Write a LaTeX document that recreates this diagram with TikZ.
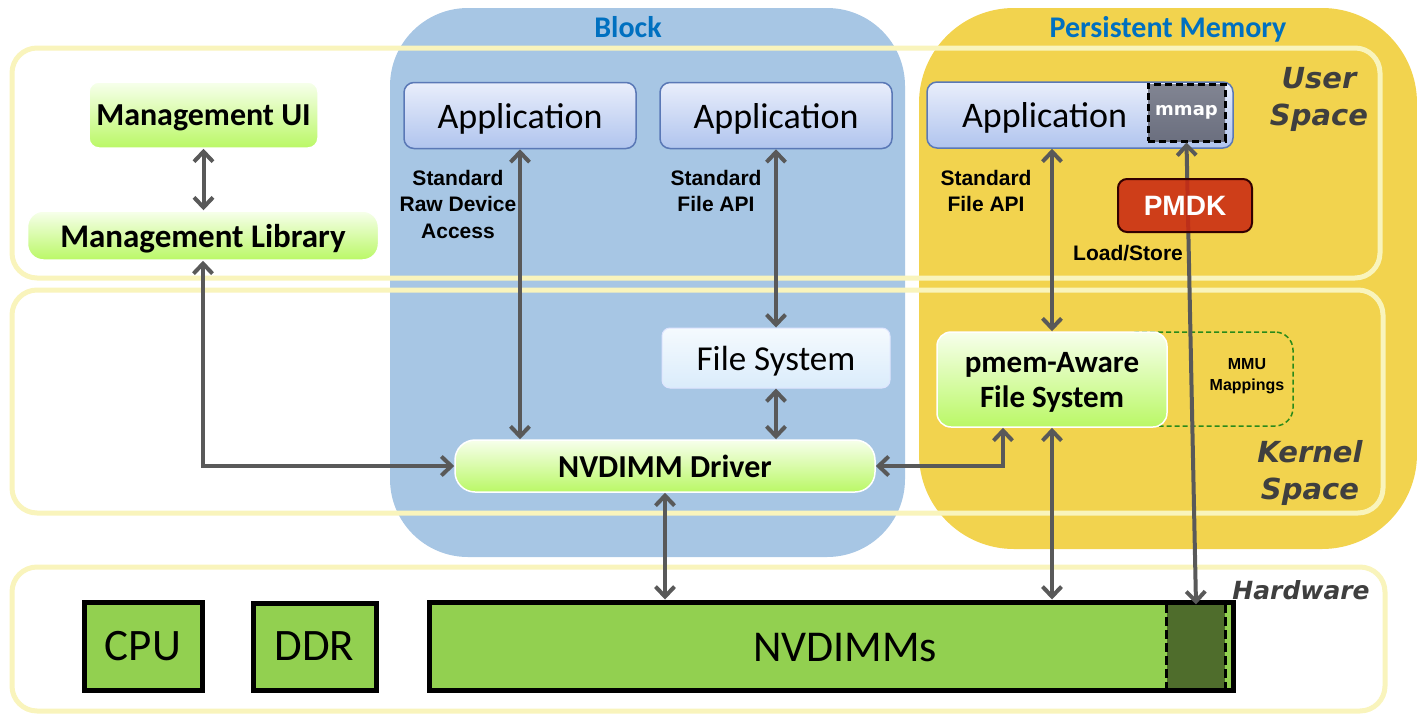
\documentclass[tikz,border=0pt]{standalone}
\usepackage{fontspec}
\setmainfont{Liberation Sans}
\newfontfamily\clearfont{Carlito}
\newfontfamily\verdfont{DejaVu Sans}
\usetikzlibrary{arrows.meta}
\usetikzlibrary{positioning}

\definecolor{blockblue}{HTML}{A7C6E4}
\definecolor{pmyellow}{HTML}{F2D34E}
\definecolor{bandyellow}{HTML}{F9F4BC}
\definecolor{titleblue}{HTML}{0070C0}
\definecolor{arrgray}{HTML}{595959}
\definecolor{greentop}{HTML}{F7FFEC}
\definecolor{greenbot}{HTML}{BAF866}
\definecolor{apptop}{HTML}{E9EEFB}
\definecolor{appbot}{HTML}{B0C4EE}
\definecolor{appborder}{HTML}{5A78B6}
\definecolor{fstop}{HTML}{F5FAFE}
\definecolor{fsbot}{HTML}{DAECFB}
\definecolor{hwgreen}{HTML}{92D050}
\definecolor{hwdark}{HTML}{4F6D2C}
\definecolor{pmdkred}{HTML}{CA2A12}
\definecolor{mmapgray}{HTML}{6B6F7F}
\definecolor{mmugreen}{HTML}{2A8A1A}
\definecolor{spacegray}{HTML}{3F3F3F}

\tikzset{
  band/.style={rounded corners=25pt, line width=5pt, draw=bandyellow},
  greenbox/.style={draw=white, line width=1.5pt, rounded corners=10pt,
    top color=greentop, bottom color=greenbot, inner sep=0pt, align=center,
    text depth=0pt, font=\clearfont\bfseries\fontsize{32}{35}\selectfont},
  appbox/.style={draw=appborder, line width=1.5pt, rounded corners=10pt,
    top color=apptop, bottom color=appbot, inner sep=0pt, text depth=0pt,
    minimum width=232, minimum height=66,
    font=\clearfont\fontsize{36}{40}\selectfont},
  hwbox/.style={draw=black, line width=5pt, fill=hwgreen, inner sep=0pt,
    font=\clearfont\fontsize{45}{50}\selectfont},
  lbl/.style={font=\bfseries\fontsize{21}{26.5}\selectfont, align=center},
  spacelbl/.style={text=spacegray, align=center,
    font=\verdfont\bfseries\itshape\fontsize{29}{37}\selectfont},
  title/.style={text=titleblue, font=\clearfont\bfseries\fontsize{30}{32}\selectfont},
  arr/.style={draw=arrgray, line width=4pt,
    {Straight Barb[length=10pt,width=19pt]}-{Straight Barb[length=10pt,width=19pt]}}
}

\begin{document}
\begin{tikzpicture}[x=1pt,y=-1pt]
\useasboundingbox (0,0) rectangle (1417,726);

%% bands, regions
\fill[white, rounded corners=25pt] (12,48) rectangle (1380,278);
\fill[white, rounded corners=25pt] (12,290) rectangle (1383,513);
\fill[white, rounded corners=25pt] (12,567) rectangle (1385,711);
\fill[blockblue, rounded corners=78pt] (390,8) rectangle (905,557);
\fill[pmyellow, rounded corners=95pt] (919,8) rectangle (1417,549);
\draw[band] (12,48) rectangle (1380,278);
\draw[band] (12,290) rectangle (1383,513);
\draw[band] (12,567) rectangle (1385,711);

\node[title] (tblock) at (628,27) {Block};
\node[title] (tpm) at (1168,29) {Persistent Memory};
\node[spacelbl] (user) at (1319,99) {User\\Space};
\node[spacelbl] (kernel) at (1310,473) {Kernel\\Space};
\node[spacelbl, font=\verdfont\bfseries\itshape\fontsize{25}{30}\selectfont] (hw) at (1301,590) {Hardware};

%% user space
\node[greenbox, minimum width=229, minimum height=66] (mui) at (203.5,115) {Management UI};
\node[greenbox, minimum width=351, minimum height=49, rounded corners=16pt,
  font=\clearfont\bfseries\fontsize{33}{35}\selectfont] (mlib) at (203,235.5) {Management Library};
\node[appbox] (app1) at (520,115.5) {Application};
\node[appbox] (app2) at (776,115.5) {Application};
\node[appbox, minimum width=306, text width=236] (app3) at (1080,115) {Application};
\node[draw=black, line width=3pt, dash pattern=on 7pt off 4pt, top color=mmapgray!85, bottom color=mmapgray,
  minimum width=77, minimum height=57, inner sep=0pt, text=white,
  font=\verdfont\bfseries\fontsize{18}{22}\selectfont] (mmap) at (1186.5,112.5) {mmap};
\node[lbl] (rawapi) at (458,204) {Standard\\Raw Device\\Access};
\node[lbl] (fileapi1) at (716,191) {Standard\\File API};
\node[lbl] (fileapi2) at (986,191) {Standard\\File API};
\node[lbl] (ldst) at (1128,253) {Load/Store};

%% kernel space
\node[draw=mmugreen, line width=1.5pt, dash pattern=on 5pt off 3pt, rounded corners=18pt,
  minimum width=173, minimum height=94, inner sep=0pt] (mmu) at (1206.5,379) {};
\node[lbl, font=\bfseries\fontsize{16}{21}\selectfont] (mmutxt) at (1247,376) {MMU\\Mappings};
\node[draw=fsbot!80!blue!40, line width=1pt, rounded corners=8pt, top color=fstop, bottom color=fsbot,
  minimum width=228, minimum height=60, inner sep=0pt, text depth=0pt,
  font=\clearfont\fontsize{35}{38}\selectfont] (fs) at (776,358) {File System};
\node[greenbox, minimum width=230, minimum height=95, rounded corners=14pt,
  font=\clearfont\bfseries\fontsize{31}{35}\selectfont] (pfs) at (1052,379.5) {pmem-Aware\\File System};
\node[greenbox, minimum width=420, minimum height=52, rounded corners=20pt] (drv) at (665,466) {NVDIMM Driver};

%% hardware
\node[hwbox, minimum width=118, minimum height=88] (cpu) at (143,646) {CPU};
\node[hwbox, minimum width=123, minimum height=87] (ddr) at (314.5,646.5) {DDR};
\node[hwbox, minimum width=804, minimum height=88] (nvd) at (831,646) {};
\node[fill=hwdark, minimum width=58, minimum height=83, inner sep=0pt] (dark) at (1196,646) {};
\draw[black, line width=3pt, dash pattern=on 9pt off 4pt] (dark.north west) -- (dark.south west);
\draw[black, line width=3pt, dash pattern=on 9pt off 4pt] (dark.north east) -- (dark.south east);
\node[font=\clearfont\fontsize{44}{48}\selectfont] (nvdtxt) at (845,648) {NVDIMMs};

%% connectors
\draw[arr] (mui.south) -- (mui.south |- mlib.north);
\draw[arr] (mlib.south) |- (drv.west);
\draw[arr] (app1.south) -- (app1.south |- drv.north);
\draw[arr] (app2.south) -- (app2.south |- fs.north);
\draw[arr] (fs.south) -- (fs.south |- drv.north);
\draw[arr] (drv.east) -| ([xshift=-49pt]pfs.south);
\draw[arr] (pfs.north) -- (pfs.north |- app3.south);
\draw[arr] (pfs.south) -- (pfs.south |- nvd.north);
\draw[arr] (drv.south) -- (drv.south |- nvd.north);
\draw[arr] (mmap.south) -- (dark.north);
\node[draw=black!80!red, line width=2pt, fill=pmdkred, fill opacity=.88, text opacity=1,
  rounded corners=9pt, minimum width=134, minimum height=53, inner sep=0pt, text=white,
  font=\bfseries\fontsize{28}{30}\selectfont] (pmdk) at (1185,205.5) {PMDK};
\end{tikzpicture}
\end{document}
